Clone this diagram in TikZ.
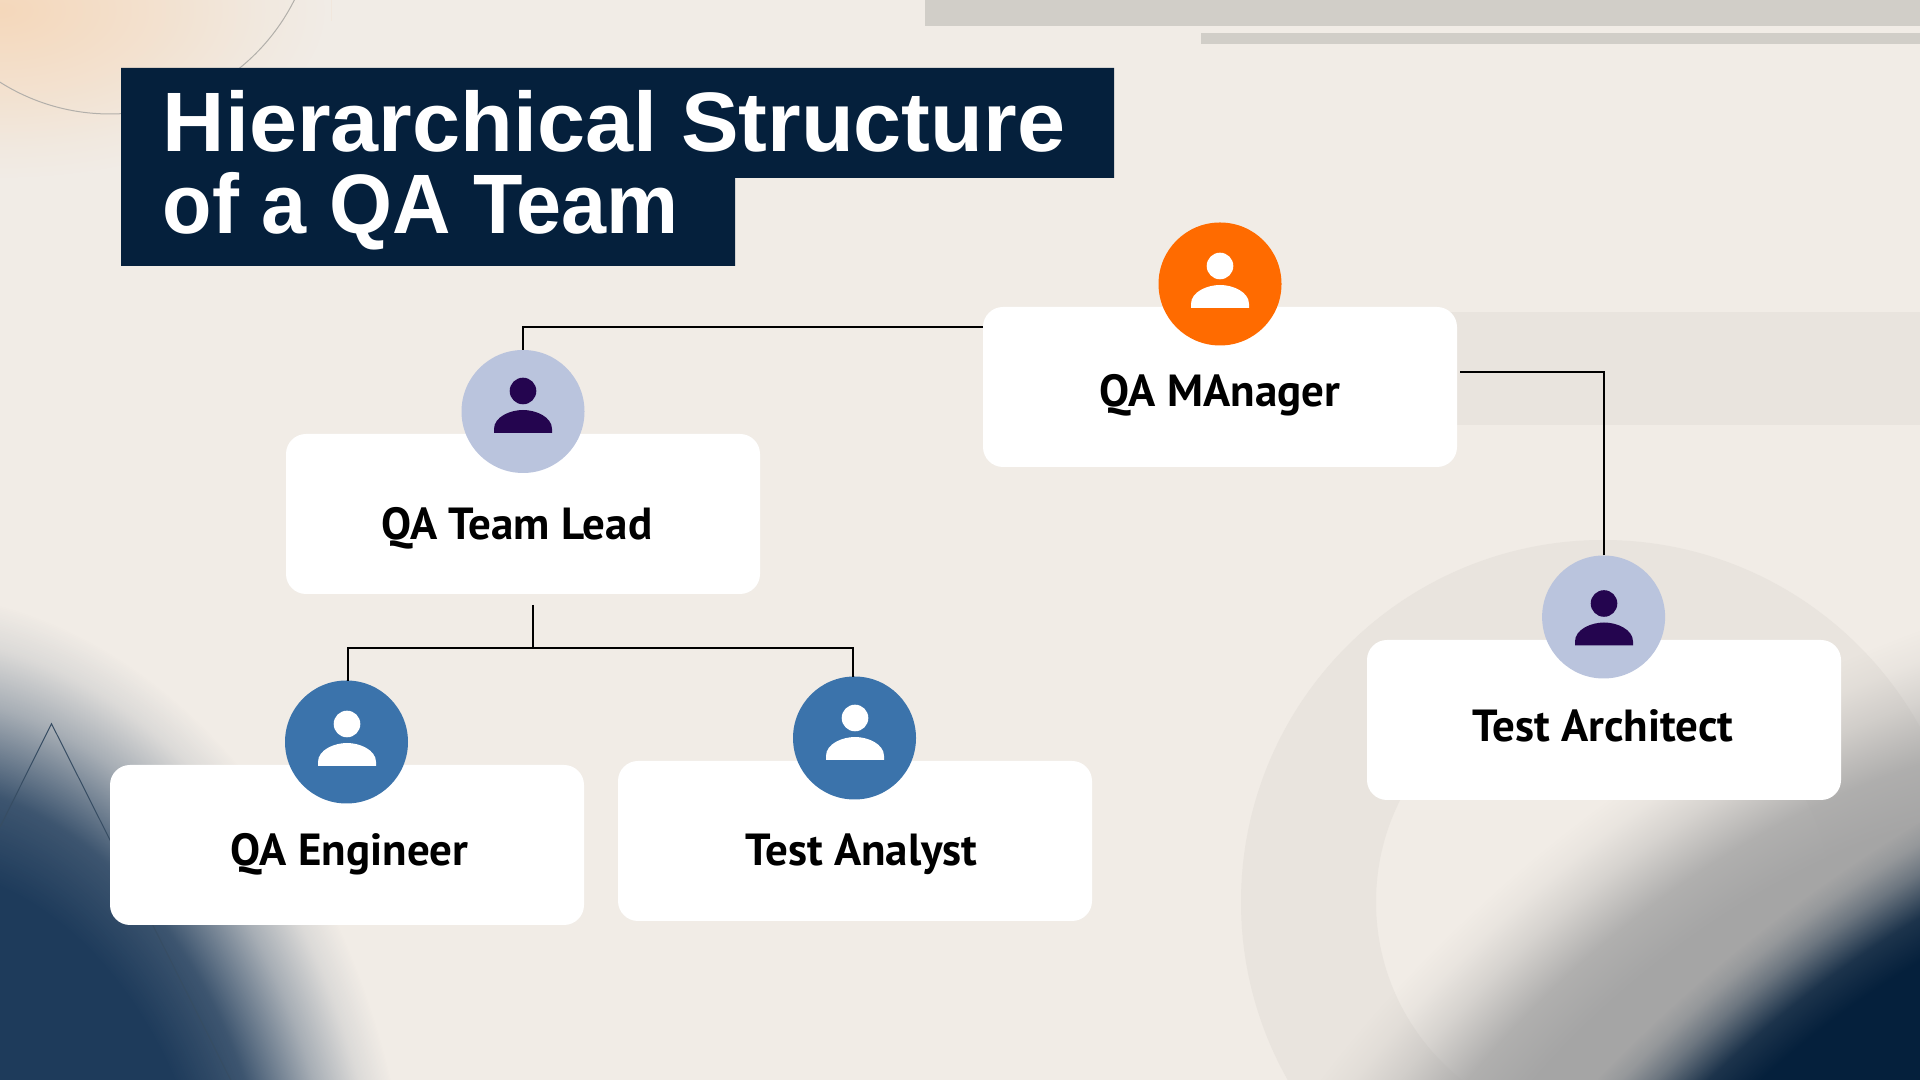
\documentclass[tikz,border=0pt]{standalone}
\usepackage{fontspec}
\usetikzlibrary{fadings}
\setmainfont{Liberation Sans}
\newfontfamily\labelfont{PT Sans}
\newfontfamily\titlewide[FakeStretch=1.024]{Liberation Sans}
\newfontfamily\titlenarrow[FakeStretch=0.96]{Liberation Sans}

\definecolor{paper}{HTML}{F1ECE6}
\definecolor{band}{HTML}{D1CEC8}
\definecolor{ringcol}{HTML}{E9E4DE}
\definecolor{navy}{HTML}{05203C}
\definecolor{blobnavy}{HTML}{1E3B5B}
\definecolor{halo}{HTML}{A5A5A5}
\definecolor{peach}{HTML}{F5D8BB}
\definecolor{orangedot}{HTML}{FF6B00}
\definecolor{lilacdot}{HTML}{BAC4DD}
\definecolor{bluedot}{HTML}{3B73AB}
\definecolor{purple}{HTML}{24054F}

\pgfdeclareradialshading{blobmask}{\pgfpointorigin}{color(0bp)=(white); color(30bp)=(white); color(36bp)=(black!15); color(42bp)=(black!65); color(46bp)=(black!90); color(49bp)=(black); color(50bp)=(black)}
\pgfdeclarefading{blobfade}{\pgfuseshading{blobmask}}
\pgfdeclareradialshading{softmask}{\pgfpointorigin}{color(0bp)=(white); color(25bp)=(black!50); color(40bp)=(black!85); color(49bp)=(black); color(50bp)=(black)}
\pgfdeclarefading{softfade}{\pgfuseshading{softmask}}

\tikzset{
    box/.style={shape=rectangle,fill=white,rounded corners=0.2cm,minimum width=4.74cm,minimum height=1.6cm},
    dot/.style={shape=circle,minimum size=1.23cm,inner sep=0pt,outer sep=0pt},
    wire/.style={line width=0.02cm,black},
    boxlabel/.style={anchor=base,font=\labelfont\bfseries\fontsize{12.8}{14}\selectfont,inner sep=0pt},
    titleline/.style={anchor=base west,text=white,inner sep=0pt},
    person/.pic={
        \fill (0,0) circle (0.133);
        \fill (-0.29,-0.42) -- (-0.29,-0.38) .. controls (-0.29,-0.26) and (-0.13,-0.19) .. (0,-0.19)
            .. controls (0.13,-0.19) and (0.29,-0.26) .. (0.29,-0.38) -- (0.29,-0.42) -- cycle;
    }
}

\begin{document}
\begin{tikzpicture}
        \useasboundingbox (0,0) rectangle (19.2,10.8);
        \fill[paper] (0,0) rectangle (19.2,10.8);

        \fill[band] (9.25,10.8) rectangle (19.2,10.54);
        \fill[band] (12.01,10.47) rectangle (19.2,10.36);
        \fill[ringcol] (13,7.68) rectangle (19.2,6.545);
        \fill[ringcol,even odd rule] (16.03,1.78) circle (3.62) (16.03,1.78) circle (2.27);

        \fill[peach,path fading=softfade,fit fading=false,fading transform={shift={(0,10.7)},xscale=1.88,yscale=0.97}] (0,8) rectangle (5,10.8);
        \draw[color=band!85!black,line width=0.01cm] (1.1,11.72) circle (2.06);

        \fill[blobnavy,path fading=blobfade,fit fading=false,fading transform={shift={(-1,-2.2)},xscale=2.99,yscale=4.1}] (0,0) rectangle (6,6);
        \fill[halo,path fading=blobfade,fit fading=false,fading transform={shift={(18,-1)},rotate=40,xscale=4.55,yscale=2.42}] (11,0) rectangle (19.2,6);
        \fill[navy,path fading=blobfade,fit fading=false,fading transform={shift={(19.1,-1.1)},rotate=40,xscale=3.98,yscale=1.71}] (14,0) rectangle (19.2,5);
        \draw[color=navy!80!white,line width=0.01cm] (0,2.53) -- (0.515,3.563) -- (2.307,0);

        \fill[navy] (1.21,10.12) -- (11.14,10.12) -- (11.14,9.02) -- (7.35,9.02) -- (7.35,8.14) -- (1.21,8.14) -- cycle;
        \node[titleline,font=\titlewide\bfseries\fontsize{24}{24}\selectfont] (titleone) at (1.62,9.28) {Hierarchical Structure};
        \node[titleline,font=\titlenarrow\bfseries\fontsize{24}{24}\selectfont] (titletwo) at (1.62,8.46) {of a QA Team};

        \coordinate (mgrleft) at (9.83,7.53);
        \coordinate (mgrright) at (14.6,7.08);
        \coordinate (leadfoot) at (5.325,4.75);
        \coordinate (busmid) at (5.325,4.32);

        \node[box] (mgr) at (12.2,6.93) {};
        \node[box] (lead) at (5.23,5.66) {};
        \node[box] (eng) at (3.47,2.35) {};
        \node[box] (ana) at (8.55,2.39) {};
        \node[box] (arch) at (16.04,3.6) {};

        \node[dot,fill=orangedot] (mgrdot) at (12.2,7.96) {};
        \node[dot,fill=lilacdot] (leaddot) at (5.23,6.685) {};
        \node[dot,fill=bluedot] (engdot) at (3.465,3.38) {};
        \node[dot,fill=bluedot] (anadot) at (8.545,3.42) {};
        \node[dot,fill=lilacdot] (archdot) at (16.036,4.63) {};

        \draw[wire] (mgrleft) -| (leaddot.north);
        \draw[wire] (mgrright) -| (archdot.north);
        \draw[wire] (leadfoot) -- (busmid);
        \draw[wire] (busmid) -| (engdot.89.3);
        \draw[wire] (busmid) -| (anadot.91.5);

        \pic[color=white] at (12.2,8.14) {person};
        \pic[color=purple] at (5.23,6.89) {person};
        \pic[color=white] at (3.47,3.56) {person};
        \pic[color=white] at (8.55,3.62) {person};
        \pic[color=purple] at (16.04,4.765) {person};

        \node[boxlabel] (mgrtext) at (12.2,6.73) {QA MAnager};
        \node[boxlabel] (leadtext) at (5.168,5.4) {QA Team Lead};
        \node[boxlabel] (engtext) at (3.496,2.14) {QA Engineer};
        \node[boxlabel] (anatext) at (8.615,2.14) {Test Analyst};
        \node[boxlabel] (archtext) at (16.03,3.38) {Test Architect};
    \end{tikzpicture}
\end{document}
